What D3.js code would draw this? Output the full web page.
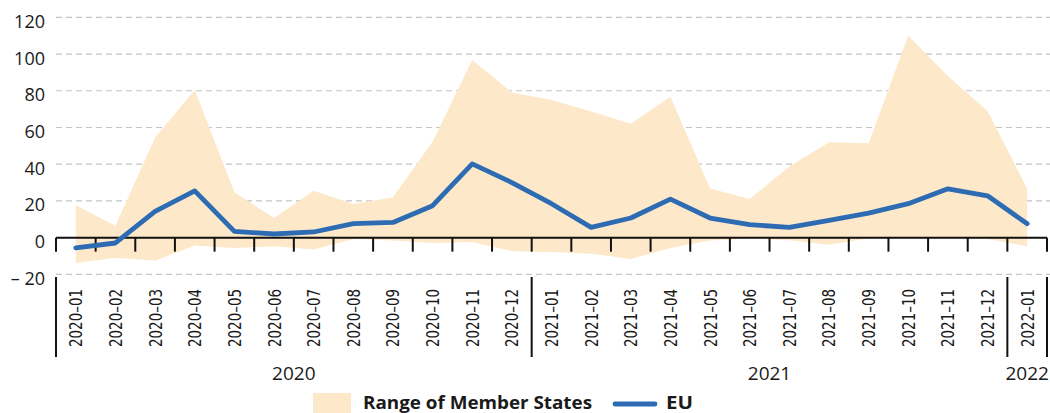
<!DOCTYPE html>
<html lang="en">
<head>
<meta charset="utf-8">
<title>EU vs range of Member States</title>
<script src="https://d3js.org/d3.v7.min.js"></script>
<style>
  body { margin: 0; background: #fff; }
  svg { display: block; }
</style>
</head>
<body>
<div id="canvas"></div>
<script type="text/javascript">
// monthly values
const months = ["2020–01","2020–02","2020–03","2020–04","2020–05","2020–06","2020–07","2020–08","2020–09","2020–10","2020–11","2020–12",
                "2021–01","2021–02","2021–03","2021–04","2021–05","2021–06","2021–07","2021–08","2021–09","2021–10","2021–11","2021–12",
                "2022–01"];
const rangeHigh = [17.6, 6.5, 54.5, 80.4, 24.8, 10.7, 25.5, 18.3, 22, 52.3, 96.7, 79,
                   75, 68.7, 62, 76.8, 26.8, 21, 38.8, 52, 51.4, 110, 88, 69,
                   26.6];
const rangeLow = [-13.8, -11, -12.5, -4.3, -5.6, -4.7, -6.5, -0.7, -1.5, -2.9, -2.3, -7.4,
                  -7.8, -8.7, -11.6, -5.6, -1.5, -0.5, -1.4, -3.8, -0.5, -0.3, -0.3, -0.7,
                  -4.7];
const euValues = [-5.6, -2.9, 14.3, 25.5, 3.4, 2, 3.1, 7.6, 8.3, 17.4, 40.2, 30,
                  18.5, 5.6, 10.7, 21, 10.7, 7.1, 5.6, 9.4, 13.4, 18.5, 26.6, 22.8,
                  7.6];
const years = ["2020", "2021", "2022"];
const yearMonths = [12, 12, 1];
const yTicks = [-20, 0, 20, 40, 60, 80, 100, 120];

const width = 1050, height = 413;
const left = 56, right = 1047;
const ink = "#1a1a1a";
const fillRange = "#fde8c9";
const blue = "#2d6bb3";

const data = months.map((m, i) => ({m, hi: rangeHigh[i], lo: rangeLow[i], eu: euValues[i]}));

const x = d3.scaleBand().domain(months).range([left, right]);
const y = d3.scaleLinear().domain([-20, 120]).range([274.4, 17.3]);
const cx = d => x(d.m) + x.bandwidth() / 2;

const svg = d3.select("#canvas").append("svg")
    .attr("width", width)
    .attr("height", height)
    .attr("font-family", "'Open Sans', 'Noto Sans', sans-serif");

// dashed gridlines
svg.append("g")
  .selectAll("line")
  .data(yTicks.filter(v => v !== 0))
  .join("line")
    .attr("x1", left).attr("x2", right + 3)
    .attr("y1", d => y(d)).attr("y2", d => y(d))
    .attr("stroke", "#c4c4c4")
    .attr("stroke-width", 1.2)
    .attr("stroke-dasharray", "6,4");

// y labels
const yAxis = svg.append("g")
    .attr("transform", `translate(${left},0)`)
    .call(d3.axisLeft(y).tickValues(yTicks).tickSize(0).tickPadding(11)
      .tickFormat(d => d < 0 ? "– " + Math.abs(d) : d));
yAxis.select(".domain").remove();
yAxis.selectAll("text")
    .attr("dy", 10)
    .attr("fill", ink)
    .attr("font-size", 18)
    .attr("font-family", "'Open Sans', 'Noto Sans', sans-serif");

// range of member states
svg.append("path")
    .datum(data)
    .attr("fill", fillRange)
    .attr("d", d3.area().x(cx).y0(d => y(d.lo)).y1(d => y(d.hi)));

// zero axis + ticks at month boundaries
const bounds = months.map(m => x(m)).concat([right]);
svg.append("line")
    .attr("x1", left).attr("x2", right)
    .attr("y1", y(0)).attr("y2", y(0))
    .attr("stroke", "#111").attr("stroke-width", 2);
svg.append("g")
  .selectAll("line")
  .data(bounds)
  .join("line")
    .attr("x1", d => d).attr("x2", d => d)
    .attr("y1", y(0)).attr("y2", y(0) + 14)
    .attr("stroke", "#111").attr("stroke-width", 2);

// month labels
svg.append("g")
  .selectAll("text")
  .data(data)
  .join("text")
    .attr("transform", d => `translate(${cx(d)},347) rotate(-90)`)
    .attr("dy", "0.36em")
    .attr("font-family", "'Liberation Sans Narrow', 'DejaVu Sans Condensed', 'Open Sans', sans-serif")
    .attr("font-size", 18)
    .attr("textLength", 58)
    .attr("lengthAdjust", "spacingAndGlyphs")
    .attr("fill", ink)
    .text(d => d.m);

// year groups
let start = 0;
const groups = years.map((yr, i) => {
  const g = {yr, x0: x(months[start]), x1: start + yearMonths[i] < months.length ? x(months[start + yearMonths[i]]) : right};
  start += yearMonths[i];
  return g;
});
svg.append("g")
  .selectAll("line")
  .data(bounds.filter((b, i) => i === 0 || i === 12 || i === 24 || i === 25))
  .join("line")
    .attr("x1", d => d).attr("x2", d => d)
    .attr("y1", 277).attr("y2", 357)
    .attr("stroke", "#111").attr("stroke-width", 2);
svg.append("g")
  .selectAll("text")
  .data(groups)
  .join("text")
    .attr("x", d => (d.x0 + d.x1) / 2)
    .attr("y", 380)
    .attr("text-anchor", "middle")
    .attr("font-size", 19)
    .attr("fill", ink)
    .text(d => d.yr);

// EU line
svg.append("path")
    .datum(data)
    .attr("fill", "none")
    .attr("stroke", blue)
    .attr("stroke-width", 4.8)
    .attr("stroke-linejoin", "round")
    .attr("stroke-linecap", "round")
    .attr("d", d3.line().x(cx).y(d => y(d.eu)));

// legend
const legend = svg.append("g").attr("font-weight", "bold").attr("font-size", 18).attr("fill", ink);
legend.append("rect")
    .attr("x", 313).attr("y", 393).attr("width", 38).attr("height", 22)
    .attr("fill", fillRange);
legend.append("text").attr("x", 363).attr("y", 409)
    .attr("textLength", 229).attr("lengthAdjust", "spacingAndGlyphs")
    .text("Range of Member States");
legend.append("line")
    .attr("x1", 615).attr("x2", 655).attr("y1", 404).attr("y2", 404)
    .attr("stroke", blue).attr("stroke-width", 4.8).attr("stroke-linecap", "round");
legend.append("text").attr("x", 666).attr("y", 409)
    .attr("textLength", 27).attr("lengthAdjust", "spacingAndGlyphs")
    .text("EU");
</script>
</body>
</html>
